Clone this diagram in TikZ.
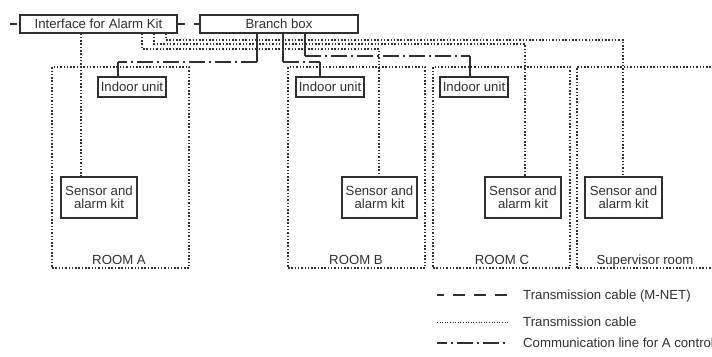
\documentclass[tikz,border=0pt]{standalone}
\usepackage{fontspec}
\setmainfont{Liberation Sans}
\definecolor{ink}{HTML}{303030}
\tikzset{
  box/.style={draw=ink, line width=1.1pt, text=ink, inner sep=0pt, align=center},
  room/.style={draw=ink, line width=1.3pt, dash pattern=on 1.5pt off 1.8pt, inner sep=0pt},
  tx/.style={draw=ink, line width=1.3pt, dash pattern=on 1.5pt off 1.8pt},
  comm/.style={draw=ink, line width=1.8pt, dash pattern=on 16pt off 4pt on 2pt off 4pt},
  commv/.style={draw=ink, line width=1.8pt},
  mnet/.style={draw=ink, line width=1.7pt, dash pattern=on 12pt off 9pt, dash phase=5pt},
  lbl/.style={text=ink, inner sep=0pt}
}
\begin{document}
\begin{tikzpicture}[x=1pt,y=-1pt,font=\fontsize{13.2}{13}\selectfont]
\useasboundingbox (0,0) rectangle (712,356);

% rooms
\node[room, minimum width=137pt, minimum height=201pt] (rA) at (120.5,167.5) {};
\node[room, minimum width=137pt, minimum height=201pt] (rB) at (356.5,167.5) {};
\node[room, minimum width=137pt, minimum height=201pt] (rC) at (501.5,167.5) {};
\node[room, minimum width=143pt, minimum height=201pt] (rS) at (648.5,167.5) {};
\node[lbl, anchor=base] (tA) at (119,264) {ROOM A};
\node[lbl, anchor=base] (tB) at (356,264) {ROOM B};
\node[lbl, anchor=base] (tC) at (502,264) {ROOM C};
\node[lbl, anchor=base] (tS) at (645,264) {Supervisor room};

% top boxes
\node[box, minimum width=157pt, minimum height=18pt, fill=white] (iface) at (98.5,24) {Interface for Alarm Kit};
\node[box, minimum width=158pt, minimum height=18pt, fill=white] (branch) at (279,24) {Branch box};

% indoor units
\node[box, minimum width=68pt, minimum height=20pt, fill=white] (iuA) at (132,87) {Indoor unit};
\node[box, minimum width=68pt, minimum height=20pt, fill=white] (iuB) at (330,87) {Indoor unit};
\node[box, minimum width=68pt, minimum height=20pt, fill=white] (iuC) at (474,87) {Indoor unit};

% sensors
\node[box, minimum width=76pt, minimum height=41pt, fill=white] (sA) at (99,197.5) {Sensor and\\alarm kit};
\node[box, minimum width=75pt, minimum height=41pt, fill=white] (sB) at (379.5,197.5) {Sensor and\\alarm kit};
\node[box, minimum width=76pt, minimum height=41pt, fill=white] (sC) at (523,197.5) {Sensor and\\alarm kit};
\node[box, minimum width=77pt, minimum height=41pt, fill=white] (sS) at (623.5,197.5) {Sensor and\\alarm kit};

% helper coordinates
\coordinate (x1) at (81,0);
\coordinate (x2) at (142,0);
\coordinate (x3) at (154,0);
\coordinate (x4) at (166,0);
\coordinate (h2) at (379,49);
\coordinate (h3) at (525,44);
\coordinate (h4) at (623,40);

% transmission cables (dotted)
\draw[tx] (iface.south -| x1) -- (sA.north -| x1);
\draw[tx] (iface.south -| x2) |- (h2) -- (sB.north -| h2);
\draw[tx] (iface.south -| x3) |- (h3) -- (sC.north -| h3);
\draw[tx] (iface.south -| x4) |- (h4) -- (sS.north -| h4);

% communication lines
\coordinate (ca) at (257,62);
\coordinate (cb) at (283,62);
\coordinate (cc) at (305,56);
\coordinate (ka) at (118,62);
\coordinate (kb) at (320,62);
\coordinate (kc) at (470,56);
\draw[commv] (branch.south -| ca) -- (ca);
\draw[comm] (ca) -- (ka);
\draw[commv] (ka) -- (iuA.north -| ka);
\draw[commv] (branch.south -| cb) -- (cb);
\draw[comm] (cb) -- (kb);
\draw[commv] (kb) -- (iuB.north -| kb);
\draw[commv] (branch.south -| cc) -- (cc);
\draw[comm] (cc) -- (kc);
\draw[commv] (kc) -- (iuC.north -| kc);

% M-NET
\coordinate (mleft) at (10,24);
\draw[mnet] (mleft) -- (iface.west);
\draw[mnet] (iface.east) -- (branch.west);

% legend
\coordinate (l1a) at (437,295); \coordinate (l1b) at (508,295);
\coordinate (l2a) at (437,322); \coordinate (l2b) at (508,322);
\coordinate (l3a) at (437,343); \coordinate (l3b) at (508,343);
\draw[mnet] (l1a) -- (l1b);
\draw[tx, line width=1pt, dash pattern=on 1pt off 1.6pt] (l2a) -- (l2b);
\draw[comm, dash phase=6pt] (l3a) -- (l3b);
\node[lbl, anchor=base west] (g1) at (523,299.5) {Transmission cable (M-NET)};
\node[lbl, anchor=base west] (g2) at (523,326.5) {Transmission cable};
\node[lbl, anchor=base west] (g3) at (523,347.5) {Communication line for A control};
\end{tikzpicture}
\end{document}
